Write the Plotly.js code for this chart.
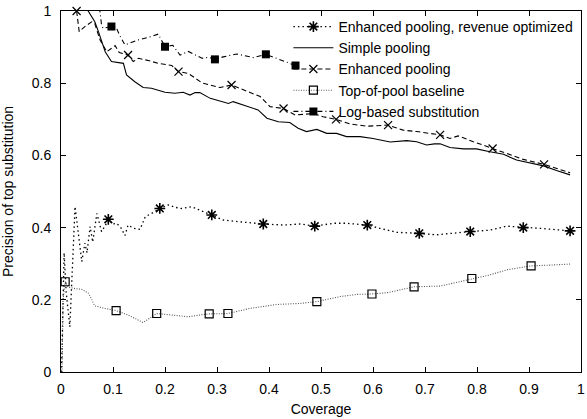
<!DOCTYPE html>
<html>
<head>
<meta charset="utf-8">
<script src="https://cdn.plot.ly/plotly-3.0.1.min.js"></script>
<style>html,body{margin:0;padding:0;background:#fff;}#chart{width:587px;height:419px;}</style>
</head>
<body>
<div id="chart"></div>
<script>
// ---- Data ----
var seriesNames = ["Enhanced pooling, revenue optimized", "Simple pooling", "Enhanced pooling", "Top-of-pool baseline", "Log-based substitution"];

var revenueX = [0.001,0.006,0.010,0.017,0.027,0.033,0.040,0.046,0.050,0.056,0.061,0.069,0.078,0.085,0.091,0.100,0.107,0.116,0.123,0.129,0.140,0.152,0.162,0.175,0.190,0.206,0.220,0.232,0.251,0.274,0.290,0.312,0.344,0.389,0.428,0.460,0.488,0.524,0.549,0.589,0.613,0.646,0.689,0.722,0.787,0.825,0.857,0.889,0.921,0.979];
var revenueY = [0.000,0.330,0.220,0.125,0.458,0.380,0.306,0.357,0.330,0.403,0.360,0.439,0.389,0.405,0.423,0.410,0.412,0.398,0.378,0.407,0.398,0.395,0.430,0.440,0.453,0.463,0.456,0.453,0.458,0.444,0.435,0.421,0.416,0.410,0.407,0.410,0.404,0.412,0.412,0.407,0.398,0.387,0.384,0.380,0.389,0.393,0.404,0.400,0.398,0.391];
var revenueMarkX = [0.091,0.190,0.290,0.389,0.488,0.589,0.689,0.787,0.889,0.979];
var revenueMarkY = [0.423,0.453,0.435,0.410,0.404,0.407,0.384,0.389,0.400,0.391];

var simpleX = [0.048,0.052,0.065,0.072,0.085,0.097,0.110,0.120,0.126,0.142,0.158,0.174,0.200,0.219,0.235,0.248,0.258,0.267,0.287,0.299,0.322,0.331,0.351,0.379,0.396,0.418,0.440,0.456,0.472,0.492,0.511,0.530,0.549,0.575,0.600,0.633,0.665,0.684,0.703,0.718,0.729,0.748,0.774,0.799,0.825,0.851,0.876,0.902,0.928,0.953,0.979];
var simpleY = [1.010,1.000,0.970,0.943,0.887,0.860,0.857,0.855,0.823,0.804,0.788,0.786,0.775,0.772,0.775,0.767,0.774,0.774,0.758,0.753,0.744,0.749,0.740,0.726,0.703,0.693,0.691,0.675,0.666,0.672,0.661,0.661,0.652,0.652,0.647,0.637,0.641,0.638,0.629,0.632,0.632,0.622,0.618,0.618,0.610,0.603,0.587,0.580,0.571,0.558,0.546];

var enhancedX = [0.030,0.035,0.047,0.059,0.065,0.075,0.088,0.104,0.112,0.129,0.139,0.149,0.170,0.187,0.213,0.226,0.245,0.271,0.287,0.306,0.328,0.351,0.383,0.402,0.428,0.450,0.485,0.504,0.529,0.556,0.588,0.629,0.658,0.684,0.729,0.748,0.764,0.793,0.830,0.857,0.889,0.929,0.953,0.979];
var enhancedY = [1.000,0.943,0.958,0.970,0.965,0.920,0.887,0.904,0.885,0.878,0.860,0.869,0.862,0.855,0.849,0.832,0.827,0.801,0.795,0.788,0.795,0.781,0.763,0.735,0.730,0.712,0.716,0.707,0.700,0.687,0.681,0.684,0.670,0.666,0.657,0.647,0.654,0.638,0.619,0.605,0.589,0.575,0.564,0.552];
var enhancedMarkX = [0.030,0.129,0.226,0.328,0.428,0.529,0.629,0.729,0.830,0.929];
var enhancedMarkY = [1.000,0.878,0.832,0.795,0.730,0.700,0.684,0.657,0.619,0.575];

var topX = [0.002,0.004,0.008,0.014,0.027,0.040,0.053,0.065,0.085,0.106,0.129,0.158,0.184,0.219,0.245,0.267,0.285,0.321,0.363,0.415,0.460,0.492,0.537,0.569,0.598,0.629,0.652,0.679,0.729,0.790,0.825,0.857,0.904,0.940,0.979];
var topY = [0.000,0.200,0.250,0.235,0.231,0.229,0.218,0.183,0.176,0.170,0.158,0.137,0.162,0.158,0.153,0.158,0.161,0.162,0.176,0.187,0.190,0.195,0.209,0.215,0.216,0.220,0.227,0.236,0.238,0.259,0.269,0.283,0.294,0.296,0.299];
var topMarkX = [0.008,0.106,0.184,0.285,0.321,0.492,0.598,0.679,0.790,0.904];
var topMarkY = [0.250,0.170,0.162,0.161,0.162,0.195,0.216,0.236,0.259,0.294];

var logX = [0.074,0.078,0.081,0.097,0.107,0.113,0.123,0.149,0.170,0.187,0.200,0.215,0.229,0.245,0.271,0.284,0.296,0.312,0.338,0.370,0.394,0.421,0.451];
var logY = [1.010,0.961,0.952,0.957,0.952,0.932,0.906,0.920,0.928,0.936,0.901,0.905,0.878,0.888,0.869,0.872,0.866,0.873,0.881,0.871,0.880,0.866,0.849];
var logMarkX = [0.097,0.200,0.296,0.394,0.451];
var logMarkY = [0.957,0.901,0.866,0.880,0.849];

var xTicks = [0,0.1,0.2,0.3,0.4,0.5,0.6,0.7,0.8,0.9,1];
var xTickText = ["0","0.1","0.2","0.3","0.4","0.5","0.6","0.7","0.8","0.9","1"];
var yTicks = [0,0.2,0.4,0.6,0.8,1];
var yTickText = ["0","0.2","0.4","0.6","0.8","1"];

// ---- Styles ----
var styles = [
  {line:{color:"#000", width:1.3, dash:"1.5px,3px"}, marker:{symbol:"asterisk-open", size:9, color:"#000", line:{color:"#000", width:1.6}}},
  {line:{color:"#000", width:1.1, dash:"solid"}, marker:null},
  {line:{color:"#000", width:1.1, dash:"5px,3px"}, marker:{symbol:"x-thin-open", size:8, color:"#000", line:{color:"#000", width:1.2}}},
  {line:{color:"#555", width:1.1, dash:"1px,1.5px"}, marker:{symbol:"square-open", size:8, color:"#000", line:{color:"#000", width:1.2}}},
  {line:{color:"#000", width:1.1, dash:"5px,3px,1px,3px"}, marker:{symbol:"square", size:8, color:"#000", line:{color:"#000", width:0}}}
];

var lineData = [[revenueX,revenueY],[simpleX,simpleY],[enhancedX,enhancedY],[topX,topY],[logX,logY]];
var markData = [[revenueMarkX,revenueMarkY],null,[enhancedMarkX,enhancedMarkY],[topMarkX,topMarkY],[logMarkX,logMarkY]];

var traces = [];
for (var i = 0; i < 5; i++) {
  traces.push({x: lineData[i][0], y: lineData[i][1], mode: "lines", line: styles[i].line, showlegend: false, hoverinfo: "skip"});
}
for (var i = 0; i < 5; i++) {
  if (markData[i]) {
    traces.push({x: markData[i][0], y: markData[i][1], mode: "markers", marker: styles[i].marker, showlegend: false, cliponaxis: false, hoverinfo: "skip"});
  }
}
// legend entries (line + marker sample)
for (var i = 0; i < 5; i++) {
  var t = {x: [null], y: [null], name: seriesNames[i], mode: styles[i].marker ? "lines+markers" : "lines", line: styles[i].line, showlegend: true};
  if (styles[i].marker) t.marker = styles[i].marker;
  traces.push(t);
}

var fontFam = "Liberation Sans, Arial, Helvetica, sans-serif";
var axisCommon = {
  range: [0, 1], showgrid: false, zeroline: false, showline: true, linecolor: "#000", linewidth: 1,
  mirror: "allticks", ticks: "inside", ticklen: 5, tickcolor: "#000", tickwidth: 1,
  tickfont: {family: fontFam, size: 14, color: "#000"}, tickmode: "array"
};

var layout = {
  width: 587, height: 419,
  margin: {l: 61, r: 6, t: 11, b: 47},
  paper_bgcolor: "#fff", plot_bgcolor: "#fff",
  font: {family: fontFam, size: 14, color: "#000"},
  xaxis: Object.assign({}, axisCommon, {tickvals: xTicks, ticktext: xTickText, ticklabelstandoff: 4,
    title: {text: "Coverage", font: {family: fontFam, size: 14, color: "#000"}, standoff: 8}}),
  yaxis: Object.assign({}, axisCommon, {tickvals: yTicks, ticktext: yTickText, ticklabelstandoff: 6,
    title: {text: "Precision of top substitution", font: {family: fontFam, size: 14, color: "#000"}, standoff: 15}}),
  legend: {x: 0.995, xanchor: "right", y: 1.0, yanchor: "top", bgcolor: "rgba(0,0,0,0)", borderwidth: 0,
    font: {family: fontFam, size: 14, color: "#000"}, itemwidth: 40, tracegroupgap: 0},
  showlegend: true
};

Plotly.newPlot("chart", traces, layout, {displayModeBar: false, staticPlot: true});
</script>
</body>
</html>
